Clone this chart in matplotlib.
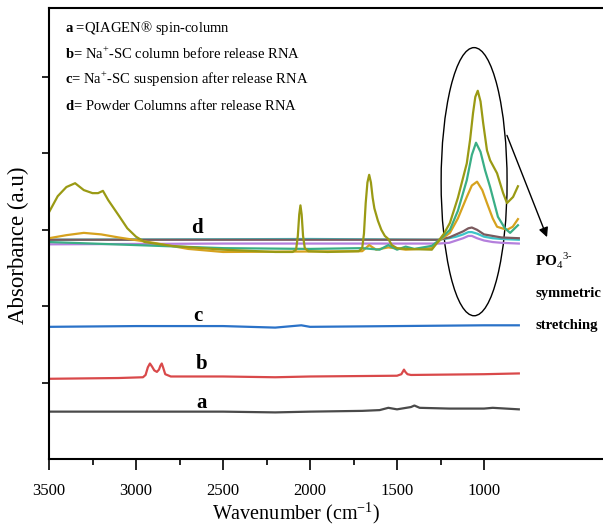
import numpy as np
import matplotlib
matplotlib.use("Agg")
import matplotlib.pyplot as plt
from matplotlib.patches import Ellipse

plt.rcParams["font.family"] = ["Liberation Serif", "DejaVu Serif"]
plt.rcParams["mathtext.fontset"] = "custom"
plt.rcParams["mathtext.rm"] = "Liberation Serif"
plt.rcParams["mathtext.bf"] = "Liberation Serif:bold"

# spectra (wavenumber cm-1, stacked absorbance a.u.)
a_x = [3500, 3000, 2500, 2200, 2000, 1700, 1600, 1550, 1500, 1420, 1400, 1370, 1200, 1000, 950, 800]
a_y = [0.62, 0.62, 0.62, 0.61, 0.62, 0.63, 0.64, 0.67, 0.65, 0.68, 0.70, 0.67, 0.66, 0.66, 0.67, 0.65]

b_x = [3500, 3100, 2960, 2945, 2932, 2920, 2908, 2895, 2880, 2868, 2860, 2852, 2843, 2832,
       2800, 2500, 2200, 2000, 1500, 1475, 1465, 1460, 1452, 1440, 1420, 1000, 800]
b_y = [1.05, 1.06, 1.07, 1.10, 1.20, 1.25, 1.21, 1.16, 1.14, 1.17, 1.22, 1.25, 1.19, 1.11,
       1.08, 1.08, 1.07, 1.08, 1.09, 1.11, 1.15, 1.17, 1.14, 1.11, 1.10, 1.11, 1.12]

c_x = [3500, 3000, 2500, 2200, 2050, 2000, 1500, 1000, 800]
c_y = [1.73, 1.74, 1.74, 1.72, 1.75, 1.73, 1.74, 1.75, 1.75]

brown_x = [3500, 2000, 1260, 1200, 1160, 1120, 1090, 1070, 1040, 1000, 950, 900, 800]
brown_y = [2.87, 2.87, 2.87, 2.90, 2.94, 2.98, 3.02, 3.03, 3.00, 2.94, 2.92, 2.90, 2.89]
cyan_x = [3500, 2000, 1260, 1200, 1160, 1120, 1090, 1070, 1040, 1000, 950, 900, 800]
cyan_y = [2.87, 2.88, 2.87, 2.89, 2.91, 2.94, 2.97, 2.97, 2.95, 2.91, 2.89, 2.88, 2.87]
purple_x = [3500, 2500, 1260, 1200, 1160, 1120, 1090, 1070, 1040, 1000, 950, 900, 800]
purple_y = [2.81, 2.82, 2.82, 2.83, 2.86, 2.89, 2.92, 2.92, 2.89, 2.86, 2.84, 2.83, 2.82]

gold_x = [3500, 3400, 3300, 3200, 3100, 2900, 2700, 2500, 1700, 1660, 1620, 1550, 1450,
          1300, 1250, 1196, 1150, 1099, 1070, 1040, 1010, 983, 950, 925, 868, 835, 805]
gold_y = [2.89, 2.93, 2.96, 2.94, 2.90, 2.83, 2.75, 2.71, 2.72, 2.80, 2.74, 2.77, 2.74,
          2.76, 2.87, 2.96, 3.15, 3.43, 3.58, 3.63, 3.52, 3.35, 3.15, 3.04, 3.00, 3.04, 3.14]

green_x = [3500, 3000, 2500, 2000, 1700, 1600, 1550, 1500, 1450, 1400, 1300, 1250, 1196,
           1150, 1099, 1070, 1046, 1020, 994, 965, 920, 880, 850, 805]
green_y = [2.84, 2.80, 2.76, 2.75, 2.76, 2.74, 2.80, 2.74, 2.78, 2.75, 2.79, 2.88, 3.00,
           3.25, 3.65, 3.98, 4.14, 4.02, 3.78, 3.56, 3.17, 3.02, 2.96, 3.06]

olive_x = [3500, 3450, 3400, 3350, 3300, 3250, 3218, 3190, 3160, 3100, 3050, 3000, 2950,
           2800, 2500, 2200, 2100, 2080, 2070, 2062, 2055, 2048, 2040, 2030, 2010, 1900,
           1720, 1700, 1690, 1680, 1670, 1660, 1650, 1640, 1630, 1610, 1590, 1570, 1550,
           1530, 1500, 1450, 1300, 1260, 1230, 1196, 1150, 1099, 1080, 1063, 1050, 1036,
           1020, 1005, 983, 965, 925, 890, 868, 833, 805]
olive_y = [3.23, 3.44, 3.56, 3.61, 3.52, 3.48, 3.48, 3.51, 3.39, 3.19, 3.02, 2.91, 2.84,
           2.79, 2.74, 2.71, 2.71, 2.74, 2.92, 3.20, 3.32, 3.20, 2.92, 2.76, 2.72, 2.71,
           2.72, 2.76, 2.95, 3.35, 3.62, 3.72, 3.62, 3.42, 3.28, 3.12, 3.00, 2.92, 2.88,
           2.80, 2.76, 2.75, 2.74, 2.86, 2.95, 3.09, 3.42, 3.87, 4.18, 4.53, 4.74, 4.82,
           4.68, 4.40, 4.04, 3.91, 3.74, 3.48, 3.35, 3.43, 3.57]

legend_lines = [r"$\mathbf{a}$ =QIAGEN® spin-column",
                r"$\mathbf{b}$= Na$^{+}$-SC column before release RNA",
                r"$\mathbf{c}$= Na$^{+}$-SC suspension after release RNA",
                r"$\mathbf{d}$= Powder Columns after release RNA"]

fig = plt.figure(figsize=(6.03, 5.25), dpi=100)
ax = fig.add_axes([49/603, 66/525, 561/603, 451.5/525])

lw = 1.6
ax.plot(a_x, a_y, color="#4a4a4a", lw=lw)
ax.plot(b_x, b_y, color="#d9494a", lw=lw)
ax.plot(c_x, c_y, color="#2a72c8", lw=lw)
ax.plot(purple_x, purple_y, color="#b47fdc", lw=lw)
ax.plot(cyan_x, cyan_y, color="#3cc4c8", lw=lw)
ax.plot(brown_x, brown_y, color="#7a5a5e", lw=lw)
ax.plot(gold_x, gold_y, color="#d6a21e", lw=lw)
ax.plot(green_x, green_y, color="#3aae86", lw=lw)
ax.plot(olive_x, olive_y, color="#9a9a14", lw=lw)

ax.set_xlim(3500, 276)
ax.set_ylim(0, 5.91)
ax.set_xticks([3500, 3000, 2500, 2000, 1500, 1000])
ax.set_xticks([3250, 2750, 2250, 1750, 1250], minor=True)
ax.set_yticks([1, 2, 3, 4, 5])
ax.set_yticklabels([])
ax.tick_params(axis="x", which="major", length=8, width=1.2, labelsize=12, pad=9)
ax.tick_params(axis="x", which="minor", length=4, width=1.2)
ax.tick_params(axis="y", length=5, width=1.2)
for s in ax.spines.values():
    s.set_linewidth(1.5)
ax.spines["right"].set_visible(False)

# curve labels
for lab, x, y in [("d", 2649, 3.02), ("c", 2644, 1.87), ("b", 2621, 1.24), ("a", 2621, 0.73)]:
    ax.text(x, y, lab, fontsize=15, fontweight="bold", ha="center", va="center")

# PO4 band annotation
ax.add_patch(Ellipse((1057, 3.63), 379, 3.51, fill=False, ec="black", lw=1.0))
ax.annotate("", xy=(632, 2.87), xytext=(874, 4.27),
            arrowprops=dict(arrowstyle="-|>", color="black", lw=1.0, mutation_scale=14))
ax.text(707, 2.60, r"PO$_4$$^{3\text{-}}$", fontsize=11, fontweight="bold", va="center")
ax.text(707, 2.17, "symmetric", fontsize=10.5, fontweight="bold", va="center")
ax.text(707, 1.75, "stretching", fontsize=10.5, fontweight="bold", va="center")

for i, t in enumerate(legend_lines):
    fig.text(65/603, 1 - (28 + i*25.7)/525, t, fontsize=10.5, va="center")

fig.text(18/603, 1 - 245/525, "Absorbance (a.u)", fontsize=16.5, rotation=90,
         ha="center", va="center")
fig.text(296/603, 1 - 513/525, r"Wavenumber (cm$^{-1}$)", fontsize=14.5,
         ha="center", va="center")

fig.savefig("out.png", dpi=100)
